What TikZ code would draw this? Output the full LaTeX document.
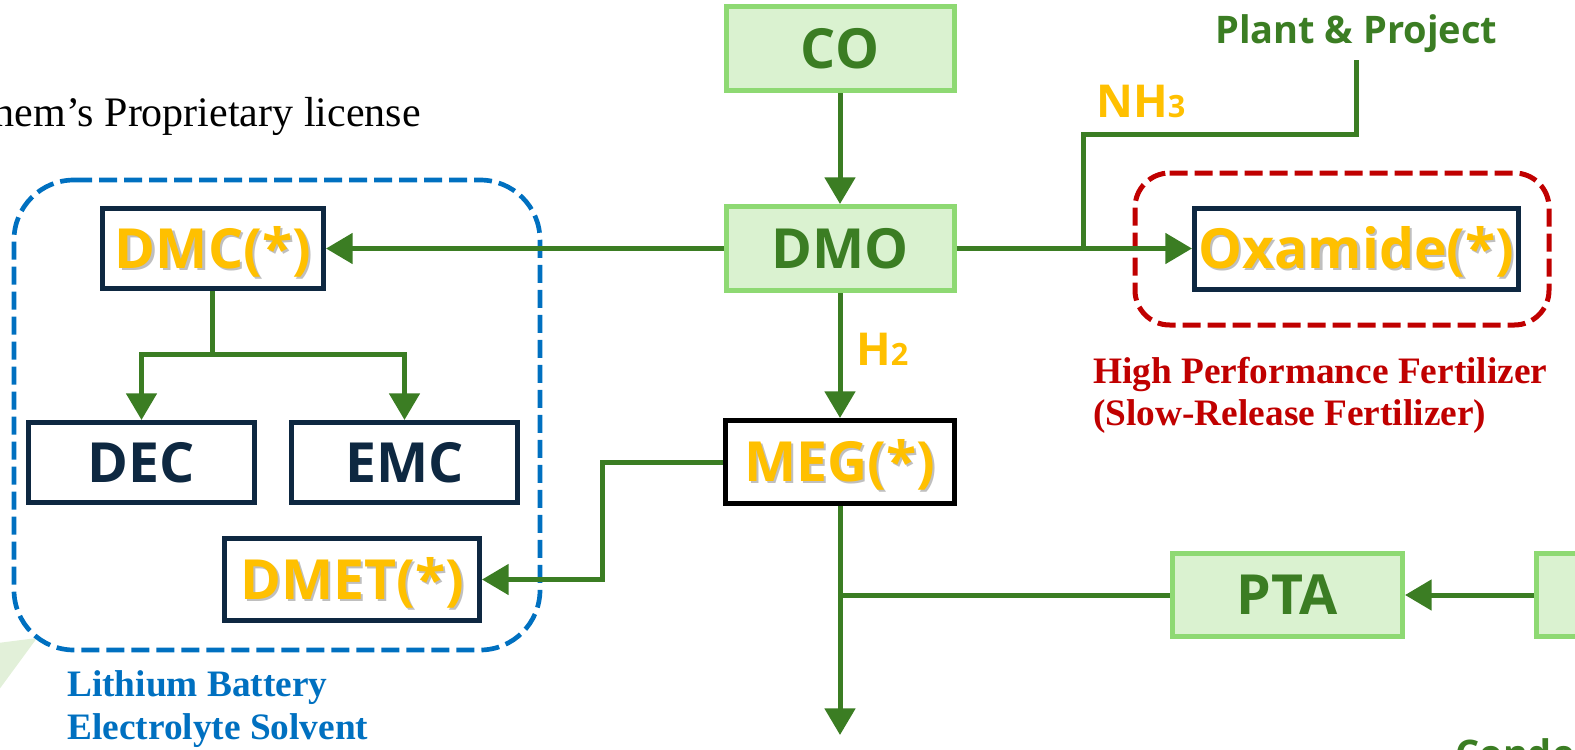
\documentclass[tikz,border=0pt]{standalone}
\usepackage{fontspec}
\setmainfont{Liberation Serif}
\newfontfamily\osans{Open Sans}
\usetikzlibrary{arrows.meta}
\definecolor{lgreen}{HTML}{DAF2D0}
\definecolor{mgreen}{HTML}{8ED973}
\definecolor{dgreen}{HTML}{3B7D23}
\definecolor{navy}{HTML}{0E2841}
\definecolor{gold}{HTML}{FFC000}
\definecolor{eblue}{HTML}{0070C0}
\definecolor{ered}{HTML}{C00000}
\definecolor{trigreen}{HTML}{E2F0D9}
\newcommand\shtext[1]{\rlap{\kern1.6pt\raisebox{-1.6pt}{\textcolor{black!25}{#1}}}#1}
\begin{document}
\begin{tikzpicture}[x=0.75pt,y=-0.75pt,
  box/.style={rectangle, line width=3.75pt, inner sep=0pt, text height=29.6pt, text depth=0pt,
    font=\osans\bfseries\fontsize{41.5}{47}\selectfont},
  gbox/.style={box, draw=mgreen, fill=lgreen, text=dgreen},
  nbox/.style={box, draw=navy, fill=white, text=navy},
  ybox/.style={box, draw=navy, fill=white, text=gold},
  kbox/.style={box, draw=black, fill=white, text=gold},
  flow/.style={draw=dgreen, line width=3.75pt},
  conn/.style={flow, -{Triangle[length=20pt,width=22.5pt]}},
  serif/.style={font=\bfseries\fontsize{28}{31.5}\selectfont, inner sep=0pt},
  gtext/.style={text=gold, inner sep=0pt, font=\osans\bfseries\fontsize{34}{40}\selectfont},
  region/.style={line width=3.5pt, dash pattern=on 13.5pt off 5.25pt}
]
\useasboundingbox (0,0) rectangle (1575,750);
\clip (0,0) rectangle (1575,750);

% light green pointer at bottom left
\fill[trigreen] (-10,644) -- (37,638) -- (-10,702) -- cycle;

% regions
\draw[region, eblue] (14,180) [rounded corners=45pt] -- (540,180) -- (540,650) -- (14,650) -- cycle;
\draw[region, ered, line width=3.75pt] (1135,173) [rounded corners=26pt] -- (1549,173) -- (1549,325) -- (1135,325) -- cycle;

% boxes
\node[gbox, minimum width=171pt, minimum height=63pt] (CO) at (840,48.5) {CO};
\node[gbox, minimum width=171pt, minimum height=63pt] (DMO) at (840,248.5) {DMO};
\node[kbox, minimum width=171.75pt, minimum height=62.25pt] (MEG) at (840,462) {\shtext{MEG(*)}};
\node[gbox, minimum width=172.5pt, minimum height=62.25pt] (PTA) at (1287.5,595) {PTA};
\node[gbox, minimum width=172.5pt, minimum height=62.25pt] (RB) at (1651.5,595) {};
\node[ybox, minimum width=165.75pt, minimum height=60pt] (DMC) at (213,248.5) {\shtext{DMC(*)}};
\node[nbox, minimum width=169.5pt, minimum height=60pt] (DEC) at (141.5,462.5) {DEC};
\node[nbox, minimum width=169.5pt, minimum height=60pt] (EMC) at (404.5,462.5) {EMC};
\node[ybox, minimum width=191.25pt, minimum height=61.5pt] (DMET) at (352,579.5) {\shtext{DMET(*)}};
\node[ybox, minimum width=243pt, minimum height=60.75pt] (OX) at (1356.5,248.5) {\shtext{Oxamide(*)}};

% texts
\node[anchor=base east, inner sep=0pt, font=\fontsize{31.5}{36}\selectfont] (lic) at (421,126) {hem’s Proprietary license};
\node[anchor=base west, inner sep=0pt, text=dgreen, font=\osans\bfseries\fontsize{28.5}{33}\selectfont] (plant) at (1215,43) {Plant \& Project};
\node[gtext, anchor=base west] (nh3) at (1096,117) {NH{\fontsize{23}{27}\selectfont 3}};
\node[gtext, anchor=base west] (h2) at (856,365) {H{\fontsize{23}{27}\selectfont 2}};
\node[serif, text=ered, anchor=base west, align=left] (fert1) at (1093,383) {High Performance Fertilizer};
\node[serif, text=ered, anchor=base west, align=left] (fert2) at (1093,425) {(Slow-Release Fertilizer)};
\node[serif, text=eblue, anchor=base west] (lith1) at (67,696) {Lithium Battery};
\node[serif, text=eblue, anchor=base west] (lith2) at (67,739) {Electrolyte Solvent};
\node[anchor=base west, inner sep=0pt, text=dgreen, font=\osans\bfseries\fontsize{28.5}{33}\selectfont] (conde) at (1455,767) {Conde};

% connectors
\draw[conn] (CO) -- (DMO);
\draw[conn] (DMO) -- (DMC);
\draw[conn] (DMO.east) -- (DMO.east -| OX.west);
\draw[conn] (DMO) -- (MEG);

\coordinate (pp) at (1356,60);
\coordinate (nhc) at (1356,134);
\coordinate (nhl) at (1083,134);
\coordinate (nhj) at (1083,248.5);
\draw[flow, line join=miter] (pp) -- (nhc) -- (nhl) -- (nhj);

\coordinate (dmcj) at (212,354);
\draw[flow] (DMC.south -| dmcj) -- (dmcj);
\draw[conn] (dmcj) -| (DEC.north);
\draw[conn] (dmcj) -| (EMC.north);

\coordinate (megturn) at (602,462);
\draw[conn] (MEG.west) -- (megturn) |- (DMET.east);

\coordinate (megout) at (840,735);
\draw[conn] (MEG) -- (megout);
\draw[flow] (PTA.west) -- (PTA.west -| MEG);
\draw[conn] (RB.west) -- (PTA.east);
\end{tikzpicture}
\end{document}
